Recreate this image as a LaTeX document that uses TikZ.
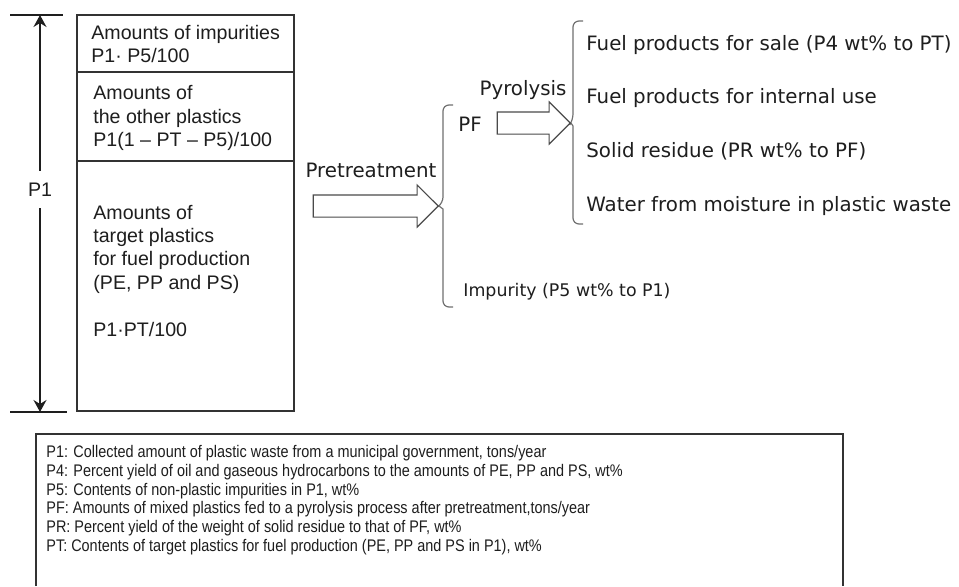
\documentclass[tikz,border=0pt]{standalone}
\usepackage{fontspec}
\setmainfont{Liberation Sans}
\newfontfamily\flowfont{DejaVu Sans}
\newfontfamily\legendfont[FakeStretch=0.86]{Liberation Sans}
\usepackage{xcolor}
\usetikzlibrary{positioning,shapes.arrows,arrows.meta}

\definecolor{ink}{HTML}{1E1E1E}
\definecolor{boxline}{HTML}{333333}
\definecolor{bracketgray}{HTML}{707070}
\definecolor{arrowline}{HTML}{4A4A4A}

\begin{document}
\begin{tikzpicture}[
    x=0.5pt, y=-0.5pt,
    section/.style = {
        rectangle,
        draw=boxline,
        line width=0.65pt,
        minimum width=108.5pt,
        inner sep=0pt,
        outer sep=0pt
    },
    boxtext/.style   = {align=left, inner sep=0pt, text=ink, font=\fontsize{9.8}{11.7}\selectfont},
    flowtext/.style  = {inner sep=0pt, text=ink, font=\flowfont\fontsize{9.9}{12}\selectfont},
    smalltext/.style = {flowtext, font=\flowfont\fontsize{8.7}{10}\selectfont},
    legendtext/.style = {align=left, inner sep=0pt, text=ink, font=\legendfont\fontsize{8.4}{9.4}\selectfont},
    blockarrow/.style = {
        single arrow,
        draw=arrowline,
        fill=white,
        line width=0.55pt,
        minimum width=20.5pt,
        single arrow head extend=5pt,
        single arrow tip angle=90,
        inner xsep=0pt,
        inner ysep=5.25pt
    },
    bracket/.style  = {draw=bracketgray, line width=0.6pt},
    dimarrow/.style = {{Stealth[length=6pt,width=6.5pt,inset=2pt]}-{Stealth[length=6pt,width=6.5pt,inset=2pt]}, line width=0.6pt, draw=ink},
    dimtick/.style  = {line width=0.6pt, draw=ink},
    dimlabel/.style = {fill=white, inner xsep=1pt, inner ysep=6pt, text=ink, font=\fontsize{9.8}{11.7}\selectfont},
    frame/.style    = {draw=boxline, line width=0.65pt}
]
\fill[white] (0,0) rectangle (959,584);

% Composition of collected waste
\node[section, minimum height=28.5pt, anchor=north west] (impbox) at (77,15) {};
\node[section, minimum height=44.5pt, below=0pt of impbox] (otherbox) {};
\node[section, minimum height=125pt, below=0pt of otherbox] (targetbox) {};

% (base = last line)
\node[boxtext, anchor=base west] (imptext) at (91,62.7) {
    Amounts of impurities\\
    P1· P5/100
};
\node[boxtext, anchor=base west] (othertext) at (93,146.7) {
    Amounts of\\
    the other plastics\\
    P1(1 – PT – P5)/100
};
\node[boxtext, anchor=base west] (targettext) at (93,336) {
    Amounts of\\
    target plastics\\
    for fuel production\\
    (PE, PP and PS)\\[11.7pt]
    P1·PT/100
};

% Dimension line
\coordinate (dimtop) at (40,15);
\coordinate (dimbot) at (40,412);
\draw[dimtick] (10,15) -- (63,15);
\draw[dimtick] (10,412) -- (67,412);
\draw[dimarrow] (dimtop) -- node[dimlabel, pos=0.44] (p1label) {P1} (dimbot);

% Pretreatment
\coordinate (pretip) at (439,206);
\draw[bracket] (453,105) [rounded corners=3pt] -- (443,105) -- (443,203) [sharp corners] -- (pretip) -- (443,209) [rounded corners=3pt] -- (443,307) -- (453,307);
\node[blockarrow, minimum height=62.5pt, anchor=tip] (prearrow) at (pretip) {};
\node[flowtext, anchor=base] (pretreat) at (371,177) {Pretreatment};
\node[flowtext, anchor=base west] (pf) at (458,131) {PF};
\node[smalltext, anchor=base west] (impurity) at (463,296) {Impurity (P5 wt\% to P1)};

% Pyrolysis
\coordinate (pyrotip) at (571,123);
\draw[bracket] (583,21) [rounded corners=3pt] -- (573,21) -- (573,120) [sharp corners] -- (pyrotip) -- (573,126) [rounded corners=3pt] -- (573,224) -- (583,224);
\node[blockarrow, minimum height=36.5pt, anchor=tip] (pyroarrow) at (pyrotip) {};
\node[flowtext, anchor=base] (pyrolysis) at (523,95) {Pyrolysis};

% Products
\node[flowtext, anchor=base west] (forsale) at (586,50) {Fuel products for sale (P4 wt\% to PT)};
\node[flowtext, anchor=base west] (internal) at (586,103.5) {Fuel products for internal use};
\node[flowtext, anchor=base west] (residue) at (586,157) {Solid residue (PR wt\% to PF)};
\node[flowtext, anchor=base west] (water) at (586,211) {Water from moisture in plastic waste};

% Legend (base = last line)
\draw[frame] (36,586) -- (36,434) -- (843,434) -- (843,586);
\node[legendtext, anchor=base west] (legend) at (46,551.5) {
    P1: Collected amount of plastic waste from a municipal government, tons/year\\
    P4: Percent yield of oil and gaseous hydrocarbons to the amounts of PE, PP and PS, wt\%\\
    P5: Contents of non-plastic impurities in P1, wt\%\\
    PF: Amounts of mixed plastics fed to a pyrolysis process after pretreatment,tons/year\\
    PR: Percent yield of the weight of solid residue to that of PF, wt\%\\
    PT: Contents of target plastics for fuel production (PE, PP and PS in P1), wt\%
};

\end{tikzpicture}
\end{document}
